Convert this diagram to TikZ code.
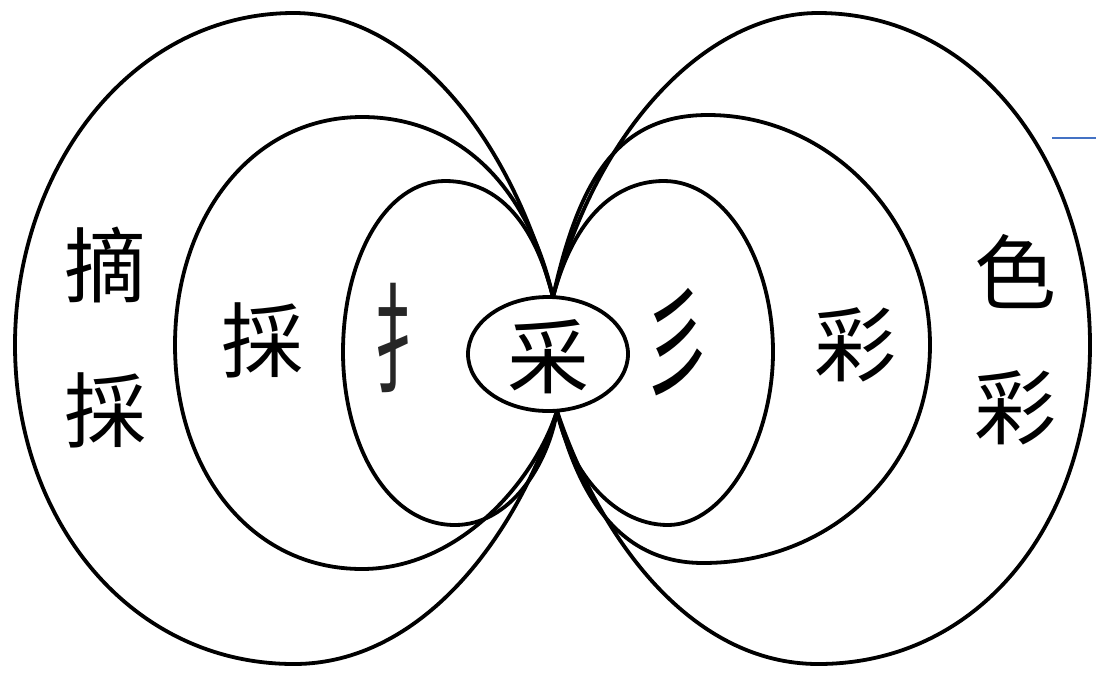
\documentclass[tikz,border=0pt]{standalone}
\usepackage{fontspec}
\usetikzlibrary{shapes.geometric}
\newfontfamily\cjk{Noto Sans CJK SC}
\definecolor{lineblue}{RGB}{68,114,196}
\begin{document}
\begin{tikzpicture}[x=0.5pt,y=-0.5pt,
  loop/.style={draw=black,line width=1.9pt},
  hanzi/.style={font=\cjk\fontsize{41}{41}\selectfont,inner sep=0pt},
  radical/.style={font=\cjk\fontsize{46}{46}\selectfont,inner sep=0pt,xscale=0.75,yscale=1.3},
  core/.style={ellipse,draw=black,fill=white,line width=1.9pt,minimum width=80pt,minimum height=57pt,inner sep=0pt}]
\useasboundingbox (0,0) rectangle (1096,675);
\coordinate (P) at (553,297);
\coordinate (Q) at (557,411);
% left loops
\draw[loop] (P) .. controls (505,120) and (400,13) .. (294,13)
  .. controls (130,13) and (15,170) .. (15,345)
  .. controls (15,520) and (130,664) .. (294,664)
  .. controls (420,664) and (515,540) .. (Q);
\draw[loop] (P) .. controls (525,175) and (450,117) .. (362,117)
  .. controls (250,117) and (175,220) .. (175,345)
  .. controls (175,470) and (250,569) .. (362,569)
  .. controls (460,569) and (535,480) .. (Q);
\draw[loop] (P) .. controls (535,225) and (500,181) .. (445,181)
  .. controls (385,181) and (343,260) .. (343,352)
  .. controls (343,440) and (385,525) .. (455,525)
  .. controls (510,525) and (548,465) .. (Q);
% right loops
\draw[loop] (P) .. controls (600,120) and (712,13) .. (818,13)
  .. controls (982,13) and (1090,170) .. (1090,345)
  .. controls (1090,520) and (982,664) .. (818,664)
  .. controls (692,664) and (600,540) .. (Q);
\draw[loop] (P) .. controls (580,175) and (620,115) .. (708,115)
  .. controls (830,115) and (930,220) .. (930,345)
  .. controls (930,470) and (830,563) .. (703,563)
  .. controls (610,563) and (575,480) .. (Q);
\draw[loop] (P) .. controls (572,225) and (610,181) .. (664,181)
  .. controls (725,181) and (773,260) .. (773,352)
  .. controls (773,440) and (725,525) .. (668,525)
  .. controls (610,525) and (568,465) .. (Q);
% centre
\node[core] (c) at (548,354) {};
\node[hanzi] (t0) at (548,357) {采};
\node[hanzi] (l1) at (105,265) {摘};
\node[hanzi] (l2) at (105,410) {採};
\node[hanzi] (m1) at (262,340) {採};
\node[radical,text=black!85] (i1) at (408,338) {扌};
\node[radical] (i2) at (677,342) {彡};
\node[hanzi] (m2) at (855,345) {彩};
\node[hanzi] (r1) at (1015,272) {色};
\node[hanzi] (r2) at (1015,408) {彩};
\coordinate (b1) at (1052,138);
\coordinate (b2) at (1096,138);
\draw[lineblue,line width=0.8pt] (b1) -- (b2);
\end{tikzpicture}
\end{document}
